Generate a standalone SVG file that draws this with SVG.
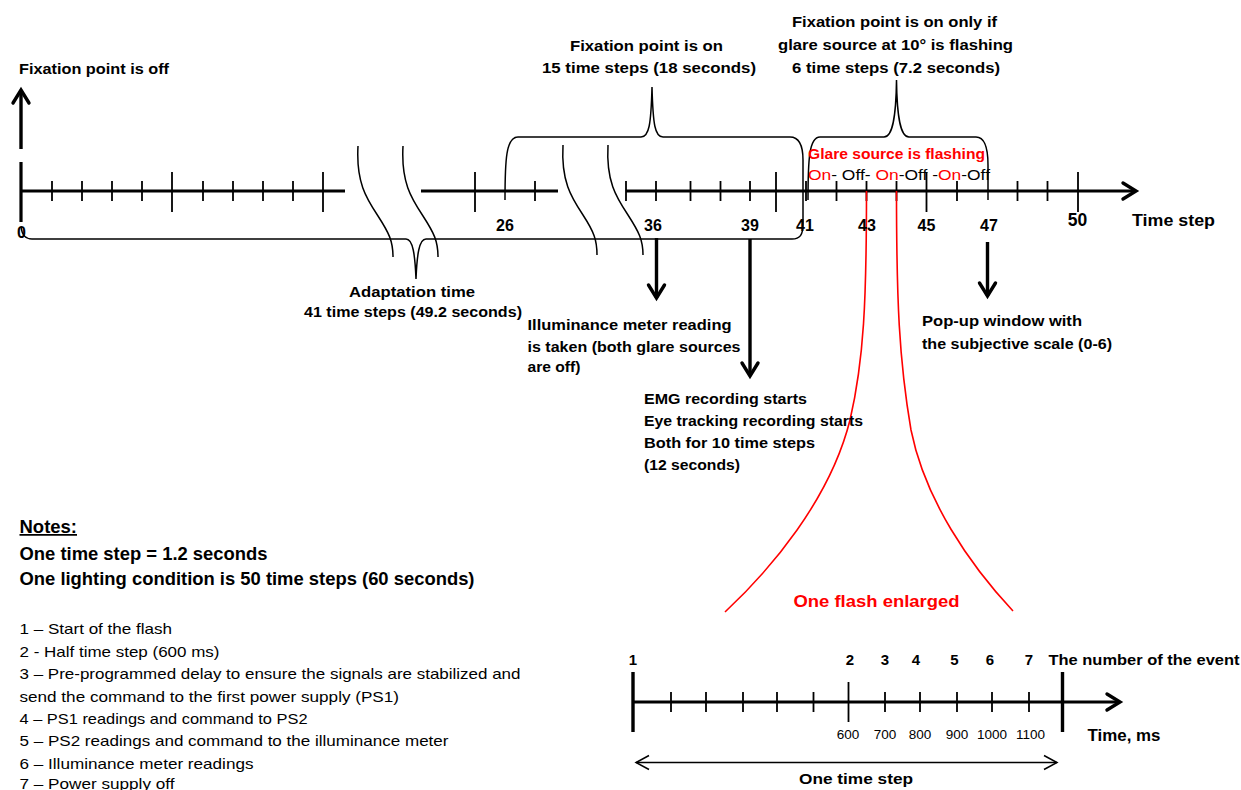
<svg xmlns="http://www.w3.org/2000/svg" width="1241" height="790" viewBox="0 0 1241 790">
<defs>
<style>
text { font-family: "Liberation Sans", Arial, sans-serif; fill: #000; }
.b { font-weight: bold; font-size: 15px; }
.r { font-weight: normal; font-size: 15px; }
.n { font-weight: bold; font-size: 16px; }
.red { fill: #ff0000; }
.axis { stroke: #000; stroke-width: 3.2; fill: none; }
.tick { stroke: #000; stroke-width: 1.8; fill: none; }
.thin { stroke: #000; stroke-width: 1.5; fill: none; }
.redline { stroke: #ff0000; stroke-width: 1.6; fill: none; }
.shaft { stroke: #000; stroke-width: 3.4; fill: none; }
</style>
<marker id="chev" viewBox="-16 -10 18 20" markerWidth="18" markerHeight="20" refX="0" refY="0" orient="auto" markerUnits="userSpaceOnUse" overflow="visible">
<path d="M-13,-8 L0,0 L-13,8" fill="none" stroke="#000" stroke-width="3.4" stroke-linecap="round" stroke-linejoin="miter"/>
</marker>
<marker id="chevThin" viewBox="-16 -10 18 20" markerWidth="18" markerHeight="20" refX="0" refY="0" orient="auto-start-reverse" markerUnits="userSpaceOnUse" overflow="visible">
<path d="M-13,-7 L0,0 L-13,7" fill="none" stroke="#000" stroke-width="1.5"/>
</marker>
</defs>
<rect width="1241" height="790" fill="#ffffff"/>

<g id="main-timeline">
<path class="axis" d="M21,191 H345"/>
<path class="axis" d="M21,162 V222"/>
<path class="tick" d="M52,181V201 M82,181V201 M112,181V201 M142,181V201 M203,181V201 M233,181V201 M263,181V201 M293,181V201"/>
<path class="tick" d="M172,172V212 M323,172V212"/>
<path class="axis" d="M421,191 H558"/>
<path class="tick" d="M475,172V212 M535,181V201"/>
<path class="axis" d="M626,191 H1136" marker-end="url(#chev)"/>
<path class="tick" d="M626,181V201 M656,181V201 M690.5,181V201 M720.5,181V201 M750,181V201 M806,181V201 M836.5,181V201 M866.5,181V201 M896.5,181V201 M957,181V201 M1017.5,181V201 M1047.5,181V201"/>
<path class="tick" d="M776,172V212 M926.5,172V212 M1078,172V212"/>
<path class="thin" d="M358,146 C356,182 366,198 378,216 C389,233 393,241 393,257"/>
<path class="thin" d="M403,146 C401,182 411,198 423,216 C434,233 438,241 438,257"/>
<path class="thin" d="M563,145 C561,181 571,197 583,215 C594,232 597,240 597,255"/>
<path class="thin" d="M608,145 C606,181 616,197 628,215 C639,232 643,240 643,255"/>
</g>

<g id="brackets">
<path class="thin" d="M505,200 C505,160 506,137 518,137 L641,137 C649,137 651,125 652,87 C653,125 655,137 663,137 L790,137 C800,137 803,147 803,160 L803,224 C803,235 800,239 792,239 L426,239 C419,239 417,255 416,279 C415,255 413,239 406,239 L32,239 C26,239 22,235 21,227"/>
<path class="thin" d="M808,200 C808,160 809,137 820,137 L884,137 C892,137 896,120 896.5,80 C897,120 901,137 909,137 L976,137 C985,137 988,150 988,165 L988,200"/>
</g>

<g id="connectors">
<path class="shaft" d="M21,149 V90" marker-end="url(#chev)"/>
<path class="shaft" d="M656.5,238 V298" marker-end="url(#chev)"/>
<path class="shaft" d="M750,239 V376" marker-end="url(#chev)"/>
<path class="shaft" d="M987.5,242 V296" marker-end="url(#chev)"/>
<path class="redline" d="M866.5,191 C866.5,300 864,360 850,420 C830,500 770,570 725,612"/>
<path class="redline" d="M896.5,191 C896.5,300 899,360 911,430 C925,500 970,565 1013,611"/>
<path class="thin" d="M636,762.5 H1057" marker-start="url(#chevThin)" marker-end="url(#chevThin)"/>
</g>

<g id="top-labels">
<text class="b" x="19" y="74" textLength="150" lengthAdjust="spacingAndGlyphs">Fixation point is off</text>
<text class="b" x="570" y="51" textLength="153" lengthAdjust="spacingAndGlyphs">Fixation point is on</text>
<text class="b" x="542" y="73" textLength="214" lengthAdjust="spacingAndGlyphs">15 time steps (18 seconds)</text>
<text class="b" x="792" y="27" textLength="205" lengthAdjust="spacingAndGlyphs">Fixation point is on only if</text>
<text class="b" x="778" y="50" textLength="235" lengthAdjust="spacingAndGlyphs">glare source at 10° is flashing</text>
<text class="b" x="792" y="73" textLength="208" lengthAdjust="spacingAndGlyphs">6 time steps (7.2 seconds)</text>
<text class="b red" x="808" y="158.5" textLength="177" lengthAdjust="spacingAndGlyphs">Glare source is flashing</text>
<text class="r" x="808" y="179.5" textLength="182" lengthAdjust="spacingAndGlyphs" style="font-size:15.5px"><tspan class="red">On</tspan>- Off- <tspan class="red">On</tspan>-Off -<tspan class="red">On</tspan>-Off</text>
</g>

<g id="axis-numbers" text-anchor="middle">
<text class="n" x="21.5" y="238">0</text>
<text class="n" x="505" y="231">26</text>
<text class="n" x="653" y="231">36</text>
<text class="n" x="750" y="231">39</text>
<text class="n" x="805" y="231">41</text>
<text class="n" x="867" y="231">43</text>
<text class="n" x="926.5" y="231">45</text>
<text class="n" x="989" y="231">47</text>
<text class="n" x="1077.5" y="226" style="font-size:17.5px">50</text>
</g>
<text class="b" x="1132" y="226" textLength="83" lengthAdjust="spacingAndGlyphs" style="font-size:17px">Time step</text>

<g id="event-labels">
<text class="b" x="349" y="297" textLength="126" lengthAdjust="spacingAndGlyphs">Adaptation time</text>
<text class="b" x="304" y="316.5" textLength="218" lengthAdjust="spacingAndGlyphs">41 time steps (49.2 seconds)</text>
<text class="b" x="527.5" y="330" textLength="204" lengthAdjust="spacingAndGlyphs">Illuminance meter reading</text>
<text class="b" x="527.5" y="352" textLength="213" lengthAdjust="spacingAndGlyphs">is taken (both glare sources</text>
<text class="b" x="527.5" y="372" textLength="53" lengthAdjust="spacingAndGlyphs">are off)</text>
<text class="b" x="644" y="404" textLength="163" lengthAdjust="spacingAndGlyphs">EMG recording starts</text>
<text class="b" x="644" y="426" textLength="219" lengthAdjust="spacingAndGlyphs">Eye tracking recording starts</text>
<text class="b" x="644" y="448" textLength="171" lengthAdjust="spacingAndGlyphs">Both for 10 time steps</text>
<text class="b" x="644" y="469.5" textLength="96" lengthAdjust="spacingAndGlyphs">(12 seconds)</text>
<text class="b" x="922" y="326" textLength="160" lengthAdjust="spacingAndGlyphs">Pop-up window with</text>
<text class="b" x="922" y="349" textLength="190" lengthAdjust="spacingAndGlyphs">the subjective scale (0-6)</text>
</g>

<g id="notes">
<text class="b" x="19.5" y="533" textLength="57.5" lengthAdjust="spacingAndGlyphs" style="font-size:17.5px; text-decoration:underline">Notes:</text>
<text class="b" x="19.5" y="560" textLength="248" lengthAdjust="spacingAndGlyphs" style="font-size:18px">One time step = 1.2 seconds</text>
<text class="b" x="19.5" y="585" textLength="455" lengthAdjust="spacingAndGlyphs" style="font-size:18px">One lighting condition is 50 time steps (60 seconds)</text>
<text class="r" x="19.5" y="634" textLength="152.5" lengthAdjust="spacingAndGlyphs">1 – Start of the flash</text>
<text class="r" x="19.5" y="656.5" textLength="200" lengthAdjust="spacingAndGlyphs">2 - Half time step (600 ms)</text>
<text class="r" x="19.5" y="679" textLength="501" lengthAdjust="spacingAndGlyphs">3 – Pre-programmed delay to ensure the signals are stabilized and</text>
<text class="r" x="19.5" y="701.5" textLength="379.5" lengthAdjust="spacingAndGlyphs">send the command to the first power supply (PS1)</text>
<text class="r" x="19.5" y="724" textLength="288" lengthAdjust="spacingAndGlyphs">4 – PS1 readings and command to PS2</text>
<text class="r" x="19.5" y="746" textLength="429" lengthAdjust="spacingAndGlyphs">5 – PS2 readings and command to the illuminance meter</text>
<text class="r" x="19.5" y="768.5" textLength="234" lengthAdjust="spacingAndGlyphs">6 – Illuminance meter readings</text>
<text class="r" x="19.5" y="788.5" textLength="155" lengthAdjust="spacingAndGlyphs">7 – Power supply off</text>
</g>

<g id="flash-enlarged">
<text class="b red" x="876.5" y="607" text-anchor="middle" textLength="166" lengthAdjust="spacingAndGlyphs" style="font-size:16.5px">One flash enlarged</text>
<path class="axis" d="M633,702 H1120" marker-end="url(#chev)"/>
<path class="shaft" d="M633,672 V732 M1062.5,672 V732"/>
<path class="tick" d="M671,692V712 M706,692V712 M743,692V712 M777,692V712 M813.5,692V712 M885,692V712 M920,692V712 M957,692V712 M992,692V712 M1029,692V712"/>
<path class="tick" d="M848.5,682V722"/>
<g text-anchor="middle">
<text class="b" x="633" y="665" style="font-size:15px">1</text>
<text class="b" x="850" y="665" style="font-size:15px">2</text>
<text class="b" x="885" y="665" style="font-size:15px">3</text>
<text class="b" x="916" y="665" style="font-size:15px">4</text>
<text class="b" x="954.5" y="665" style="font-size:15px">5</text>
<text class="b" x="990" y="665" style="font-size:15px">6</text>
<text class="b" x="1029" y="665" style="font-size:15px">7</text>
<text class="r" x="848" y="739" style="font-size:13.5px">600</text>
<text class="r" x="885" y="739" style="font-size:13.5px">700</text>
<text class="r" x="920" y="739" style="font-size:13.5px">800</text>
<text class="r" x="957" y="739" style="font-size:13.5px">900</text>
<text class="r" x="992" y="739" style="font-size:13.5px">1000</text>
<text class="r" x="1030.5" y="739" style="font-size:13.5px">1100</text>
<text class="b" x="856" y="784" textLength="114" lengthAdjust="spacingAndGlyphs" style="font-size:15.5px">One time step</text>
</g>
<text class="b" x="1048.5" y="665" textLength="191" lengthAdjust="spacingAndGlyphs" style="font-size:15px">The number of the event</text>
<text class="b" x="1087.5" y="740.5" textLength="73" lengthAdjust="spacingAndGlyphs" style="font-size:16.5px">Time, ms</text>
</g>
</svg>
